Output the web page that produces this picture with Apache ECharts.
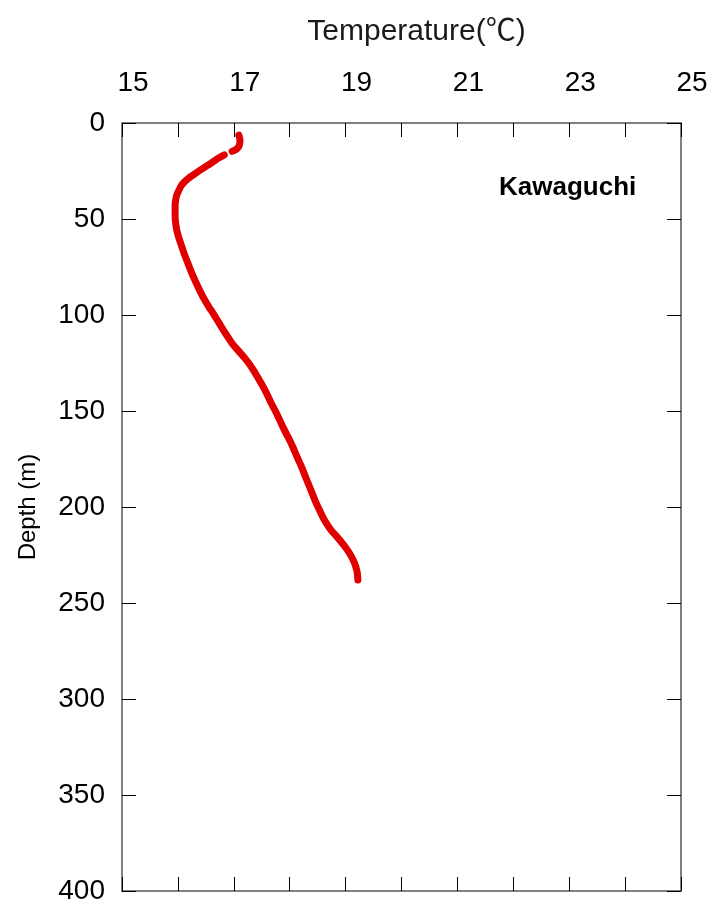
<!DOCTYPE html>
<html>
<head>
<meta charset="utf-8">
<script src="https://cdn.jsdelivr.net/npm/echarts@6/dist/echarts.min.js"></script>
<style>
  html, body { margin: 0; padding: 0; background: #fff; }
  #chart { width: 720px; height: 904px; }
</style>
</head>
<body>
<div id="chart"></div>
<script>
// Water temperature profile: [temperature (°C), depth (m)]
const stationName = 'Kawaguchi';
const xAxisTitle = 'Temperature(℃)';
const yAxisTitle = 'Depth (m)';

const tempRange = [15, 25];
const depthRange = [0, 400];
const tempLabelStep = 2;
const depthLabelStep = 50;

// near-surface readings (short break in the record below them)
const surfaceProfile = [
  [17.09, 6.3], [17.11, 9.0], [17.10, 11.5], [17.06, 13.3], [16.97, 14.8]
];

// main cast
const deepProfile = [
  [16.83, 16.6], [16.72, 18.4], [16.63, 20.2], [16.54, 21.9],
  [16.45, 23.6], [16.36, 25.3], [16.27, 27.1], [16.19, 28.8], [16.12, 30.6],
  [16.06, 32.6], [16.02, 34.9], [15.98, 37.5], [15.96, 40.1], [15.95, 42.8],
  [15.95, 45.3], [15.95, 48.8], [15.96, 52.2], [15.98, 55.7], [16.01, 59.2],
  [16.05, 62.7], [16.11, 67.9], [16.18, 73.1], [16.25, 78.3], [16.33, 83.5],
  [16.40, 87.8], [16.48, 92.2], [16.55, 95.6], [16.63, 99.1], [16.72, 103.4],
  [16.81, 107.8], [16.90, 111.7], [16.99, 115.6], [17.10, 119.2], [17.20, 122.6],
  [17.29, 126.0], [17.37, 129.6], [17.44, 133.1], [17.51, 136.6], [17.59, 141.0],
  [17.67, 146.0], [17.75, 150.4], [17.82, 154.7], [17.88, 158.4], [17.94, 161.9],
  [18.00, 165.2], [18.06, 169.0], [18.13, 173.8], [18.21, 179.0], [18.27, 183.4],
  [18.33, 187.7], [18.39, 192.0], [18.45, 196.4], [18.52, 200.8], [18.59, 205.1],
  [18.66, 208.6], [18.74, 212.0], [18.83, 215.0], [18.92, 218.1], [19.00, 221.1],
  [19.07, 224.1], [19.12, 226.7], [19.16, 229.3], [19.19, 231.9], [19.21, 234.5],
  [19.22, 238.0]
];

const profileData = surfaceProfile.concat([['-', '-']], deepProfile);

const FONT = '"Liberation Sans", Arial, "Noto Sans CJK JP", sans-serif';
const axisLineStyle = { color: '#808080', width: 2 };
const tickStyle = { color: '#000', width: 1 };

const chart = echarts.init(document.getElementById('chart'), null, { renderer: 'canvas' });

function tempAxis(position, showLabels) {
  return {
    type: 'value',
    position: position,
    min: tempRange[0],
    max: tempRange[1],
    interval: tempLabelStep,
    name: showLabels ? xAxisTitle : '',
    nameLocation: 'middle',
    nameGap: 76,
    nameTextStyle: {
      fontFamily: FONT, fontSize: 30, color: '#1a1a1a', padding: [0, 0, 0, 30]
    },
    axisLine: { show: true, onZero: false, lineStyle: axisLineStyle },
    axisTick: { show: true, inside: true, length: 14, lineStyle: tickStyle },
    minorTick: { show: true, splitNumber: 2, length: 14, lineStyle: tickStyle },
    splitLine: { show: false },
    minorSplitLine: { show: false },
    axisLabel: {
      show: showLabels, fontFamily: FONT, fontSize: 28, color: '#000',
      margin: 26, padding: [0, 0, 0, 22]
    }
  };
}

function depthAxis(position, showLabels) {
  return {
    type: 'value',
    position: position,
    inverse: true,
    min: depthRange[0],
    max: depthRange[1],
    interval: depthLabelStep,
    name: showLabels ? yAxisTitle : '',
    nameLocation: 'middle',
    nameGap: 82,
    nameRotate: 90,
    nameTextStyle: { fontFamily: FONT, fontSize: 24, color: '#000' },
    axisLine: { show: true, onZero: false, lineStyle: axisLineStyle },
    axisTick: { show: true, inside: true, length: 14, lineStyle: tickStyle },
    splitLine: { show: false },
    axisLabel: {
      show: showLabels, fontFamily: FONT, fontSize: 28, color: '#000', margin: 17
    }
  };
}

chart.setOption({
  animation: false,
  backgroundColor: '#fff',
  title: {
    text: stationName,
    left: 499,
    top: 175,
    padding: 0,
    textStyle: { fontFamily: FONT, fontSize: 26, fontWeight: 'bold', color: '#000' }
  },
  grid: {
    left: 122, right: 39, top: 123, bottom: 13,
    containLabel: false, outerBoundsMode: 'none'
  },
  xAxis: [tempAxis('top', true), tempAxis('bottom', false)],
  yAxis: [depthAxis('left', true), depthAxis('right', false)],
  series: [{
    type: 'line',
    xAxisIndex: 0,
    yAxisIndex: 0,
    data: profileData,
    showSymbol: false,
    connectNulls: false,
    smooth: 0.35,
    lineStyle: { color: '#e00000', width: 7, cap: 'round', join: 'round' },
    itemStyle: { color: '#e00000' }
  }]
});
</script>
</body>
</html>
